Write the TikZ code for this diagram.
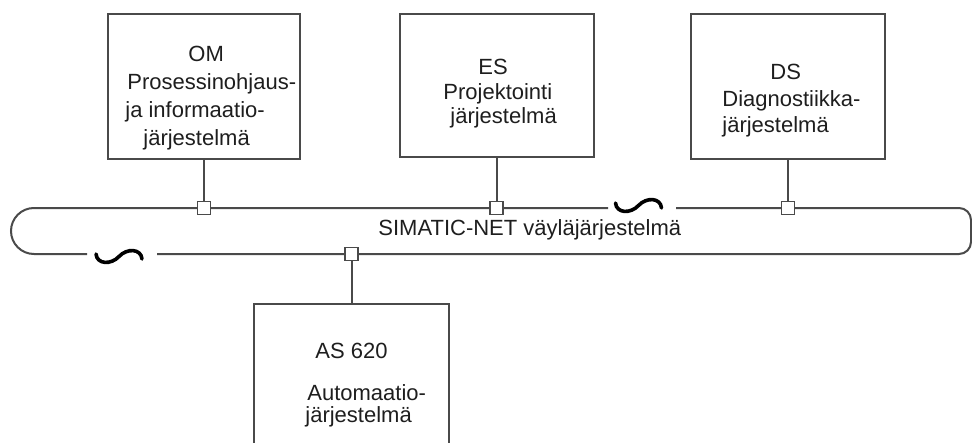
\documentclass[tikz,border=0pt]{standalone}
\usepackage{fontspec}
\setmainfont{Liberation Sans}
\usetikzlibrary{positioning,calc}

\definecolor{linegray}{HTML}{4A4A4A}
\definecolor{textgray}{HTML}{1E1E1E}

\begin{document}
\begin{tikzpicture}[x=0.5pt, y=-0.5pt,
  unit/.style={draw=linegray, line width=1pt, minimum width=97pt, inner sep=0pt},
  port/.style={draw=linegray, line width=0.8pt, fill=white, minimum size=6.5pt, inner sep=0pt},
  bus/.style={draw=linegray, line width=1pt},
  wire/.style={draw=linegray, line width=1pt},
  cut/.style={draw=black, line width=1.8pt, line cap=round},
  boxtext/.style={anchor=base west, inner sep=0pt, align=left, text=textgray,
    font=\fontsize{11}{14}\selectfont}]

  \useasboundingbox (0,0) rectangle (972,443);
  \clip (0,0) rectangle (972,443);

  % units
  \node[unit, minimum width=96pt, minimum height=72.5pt] (om) at (204,86.5) {};
  \node[unit, minimum height=71.5pt] (es) at (496.5,85.5) {};
  \node[unit, minimum height=72.5pt] (ds) at (788,86.5) {};
  \node[unit, minimum width=97.5pt, minimum height=90pt] (as) at (351.5,394) {};

  % texts, placed by the baseline of their last line
  \node[boxtext] (omtext) at (125,146)
    {\hspace*{31.5pt}OM\\\hspace*{1pt}Prosessinohjaus-\\ja informaatio-\\\hspace*{9pt}järjestelmä};
  \node[boxtext, font=\fontsize{11}{12.25}\selectfont] (estext) at (443,124)
    {\hspace*{17.5pt}ES\\Projektointi\\\hspace*{3.5pt}järjestelmä};
  \node[boxtext, font=\fontsize{11}{13.25}\selectfont] (dstext) at (722,133)
    {\hspace*{24pt}DS\\Diagnostiikka-\\järjestelmä};
  \node[boxtext, font=\fontsize{11}{11}\selectfont] (astext) at (305,422)
    {\hspace*{5pt}AS 620\\[10pt]\hspace*{1pt}Automaatio-\\järjestelmä};

  % bus
  \draw[bus, rounded corners=11.5pt] (608,208) -- (11,208) -- (11,254) -- (87,254);
  \draw[bus, rounded corners=6pt] (676,208) -- (971,208) -- (971,254) -- (157,254);
  \node[boxtext] (bustext) at (378,235) {SIMATIC-NET väyläjärjestelmä};

  % cuts in the bus
  \draw[cut, shift={(119,256.5)}] (-23,-2.5) .. controls (-22,8) and (-8,8.5) .. (0,0)
    .. controls (8,-8.5) and (22,-8) .. (23,2.5);
  \draw[cut, shift={(638.5,205.5)}] (-23,-2.5) .. controls (-22,8) and (-8,8.5) .. (0,0)
    .. controls (8,-8.5) and (22,-8) .. (23,2.5);

  % ports and wires
  \node[port] (omport) at (om.south |- 0,208) {};
  \node[port] (esport) at (es.south |- 0,208) {};
  \node[port] (dsport) at (ds.south |- 0,208) {};
  \node[port] (asport) at (as.north |- 0,254) {};
  \draw[wire] (om) -- (omport);
  \draw[wire] (es) -- (esport);
  \draw[wire] (ds) -- (dsport);
  \draw[wire] (as) -- (asport);
\end{tikzpicture}
\end{document}
